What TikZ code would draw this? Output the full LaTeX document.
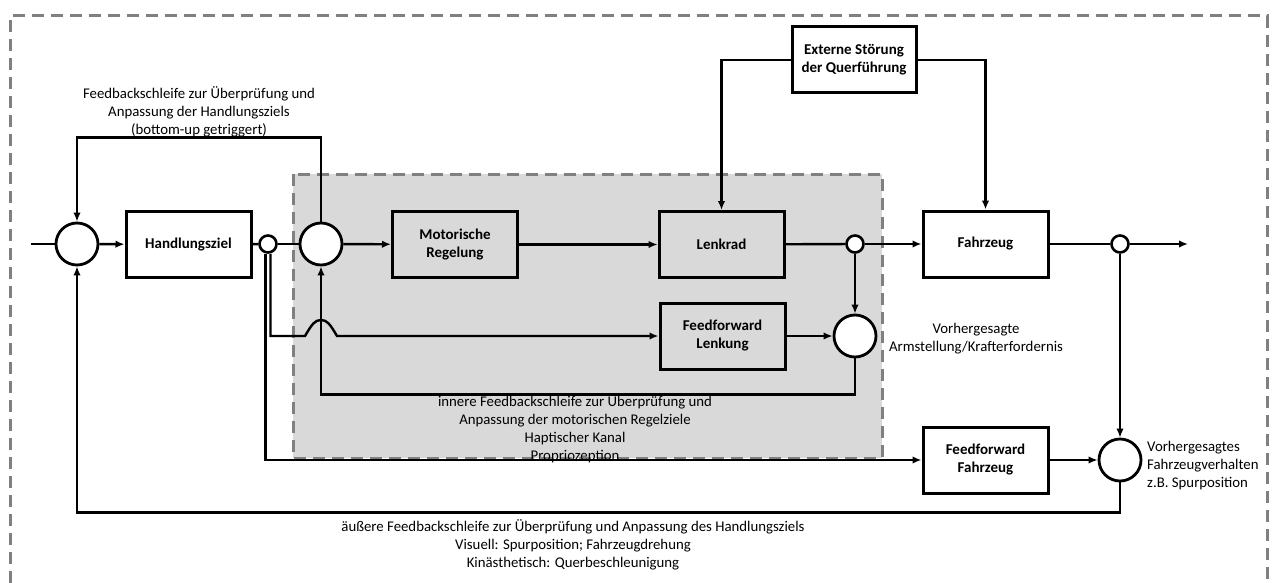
\documentclass[tikz,border=0pt]{standalone}
\usepackage{fontspec}
\setmainfont{Carlito}
\usetikzlibrary{arrows.meta}
\definecolor{framegray}{RGB}{128,128,128}
\definecolor{zonegray}{RGB}{217,217,217}
\begin{document}
\begin{tikzpicture}[x=1pt,y=-1pt,
  font=\fontsize{14.8pt}{18pt}\selectfont,
  block/.style={draw,line width=3pt,minimum width=125pt,minimum height=66pt,align=center,font=\fontsize{15pt}{18pt}\selectfont\bfseries},
  sumpt/.style={draw,circle,line width=2.8pt,minimum size=42pt,inner sep=0pt,fill=white},
  branch/.style={draw,circle,line width=2.6pt,minimum size=17pt,inner sep=0pt,fill=white},
  sig/.style={line width=2.4pt},
  sigarr/.style={sig,-{Latex[length=9pt,width=7.5pt]}},
  frame/.style={draw=framegray,line width=3pt,dash pattern=on 12pt off 7pt},
  note/.style={align=center,inner sep=0pt}]
\useasboundingbox (0,0) rectangle (1273,583);
\draw[frame] (10,583) -- (10,16) -- (1267,16) -- (1267,583);
\filldraw[frame,fill=zonegray] (293,174) rectangle (882,458);
% Knoten
\coordinate (in) at (31,244);
\coordinate (out) at (1188,244);
\node[sumpt] (s1) at (77,244) {};
\node[block] (ziel) at (188.5,244.5) {Handlungsziel};
\node[branch] (b1) at (268,244) {};
\node[sumpt] (s2) at (321,244) {};
\node[block] (motor) at (455,244.5) {Motorische\\Regelung};
\node[block] (lenk) at (721.5,244.5) {Lenkrad};
\node[branch] (b2) at (855,244) {};
\node[block] (fzg) at (985.5,244) {Fahrzeug};
\node[branch] (b3) at (1120,244) {};
\node[block,minimum width=124pt] (ext) at (854,60) {Externe Störung\\der Querführung};
\node[block] (ffl) at (722.5,336) {Feedforward\\Lenkung};
\node[sumpt] (s3) at (855,336) {};
\node[block] (fff) at (985.5,460) {Feedforward\\Fahrzeug};
\node[sumpt] (s4) at (1120,460) {};
% Verbindungen
\draw[sig] (in) -- (s1.west);
\draw[sigarr] (s1) -- (ziel);
\draw[sig] (ziel) -- (b1);
\draw[sig] (b1) -- (s2);
\draw[sigarr] (s2) -- (motor);
\draw[sigarr] (motor) -- (lenk);
\draw[sig] (lenk) -- (b2);
\draw[sigarr] (b2) -- (fzg);
\draw[sig] (fzg) -- (b3);
\draw[sigarr] (b3) -- (out);
\draw[sigarr] (ext.west) -| (lenk.north);
\draw[sigarr] (ext.east) -| (fzg.north);
\draw[sigarr] (s2.north) -- ++(0,-84) -| (s1.north);
\draw[sigarr] (b2.south) -- (s3.north);
\draw[sigarr] (ffl) -- (s3);
\draw[sigarr] (s3.south) -- ++(0,36) -| (s2.south);
\draw[sigarr] (b3.south) -- (s4.north);
\draw[sigarr] (fff) -- (s4);
\draw[sigarr] (s4.south) -- ++(0,30) -| (s1.south);
\draw[sigarr] ([xshift=2.5pt]b1.south) |- (305,336) .. controls (312,324) and (315,320) .. (321,320) .. controls (327,320) and (330,324) .. (337,336) -- (ffl.west);
\draw[sigarr] ([xshift=-2.5pt]b1.south) |- (fff.west);
% Beschriftungen
\node[note] (fbtxt) at (199,112) {Feedbackschleife zur Überprüfung und\\Anpassung der Handlungsziels\\(bottom-up getriggert)};
\node[note] (innertxt) at (575,429) {innere Feedbackschleife zur Überprüfung und\\Anpassung der motorischen Regelziele\\Haptischer Kanal\\Propriozeption};
\node[note] (outertxt) at (573,545) {äußere Feedbackschleife zur Überprüfung und Anpassung des Handlungsziels\\Visuell: Spurposition; Fahrzeugdrehung\\Kinästhetisch: Querbeschleunigung};
\node[note] (armtxt) at (976,339) {Vorhergesagte\\Armstellung/Krafterfordernis};
\node[note,align=left,anchor=west] (fztxt) at (1147,466) {Vorhergesagtes\\Fahrzeugverhalten\\z.B. Spurposition};
\end{tikzpicture}
\end{document}
